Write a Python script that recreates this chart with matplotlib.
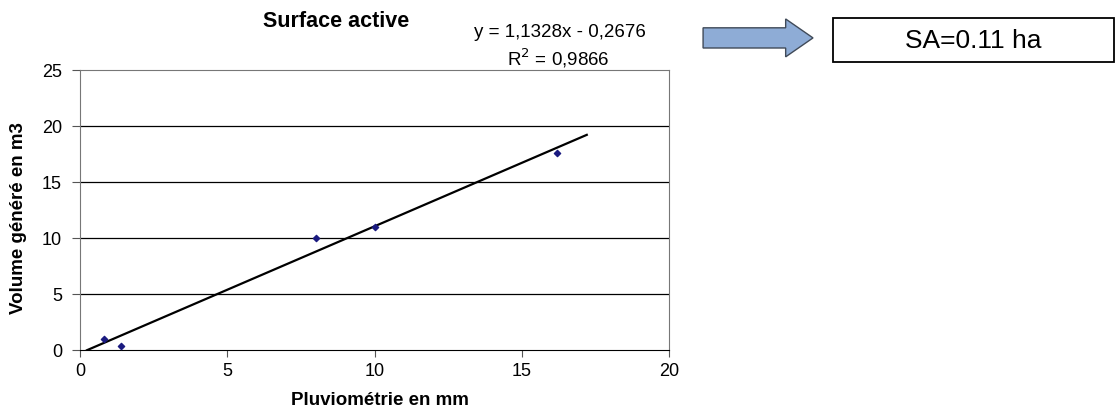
import matplotlib
matplotlib.use("Agg")
import matplotlib.pyplot as plt
from matplotlib.patches import FancyArrow, Rectangle

plt.rcParams['font.family'] = ['Liberation Sans', 'DejaVu Sans']

# measured points (rain in mm vs generated volume in m3)
pluie = [0.8, 1.4, 8.0, 10.0, 16.2]
volume = [1.0, 0.35, 10.0, 11.0, 17.6]

# linear trend shown on the chart
pente = 1.1328
origine = -0.2676
r2 = 0.9866
trend_x = [0.236, 17.2]
trend_y = [pente * x + origine for x in trend_x]

xticks = [0, 5, 10, 15, 20]
yticks = [0, 5, 10, 15, 20, 25]

fig = plt.figure(figsize=(11.16, 4.12), dpi=100)
ax = fig.add_axes([0.0717, 0.150, 0.528, 0.680])

for y in yticks[1:-1]:
    ax.axhline(y, color='black', lw=0.9, zorder=1)

ax.plot(trend_x, trend_y, color='black', lw=1.6, zorder=2)
ax.scatter(pluie, volume, marker='D', s=10, color='#1a1a80', zorder=3)

ax.set_xlim(0, 20)
ax.set_ylim(0, 25)
ax.set_xticks(xticks)
ax.set_yticks(yticks)
ax.tick_params(labelsize=13, length=5, color='#555555')
ax.tick_params(axis='x', pad=4)
ax.tick_params(axis='y', length=6, pad=7)
for side in ['left', 'top', 'right']:
    ax.spines[side].set_color('#777777')
ax.spines['bottom'].set_color('black')

ax.set_xlabel('Pluviométrie en mm', fontsize=13.5, fontweight='bold')
ax.set_ylabel('Volume généré en m3', fontsize=13.5, fontweight='bold')
ax.xaxis.set_label_coords(0.509, -0.148)
ax.yaxis.set_label_coords(-0.090, 0.47)

fig.text(0.301, 0.947, 'Surface active', fontsize=15.5, fontweight='bold', ha='center', va='center')
fig.text(0.502, 0.922, 'y = 1,1328x - 0,2676', fontsize=13.5, ha='center', va='center')
fig.text(0.500, 0.859, 'R$^2$ = %s' % str(r2).replace('.', ','), fontsize=13.5, ha='center', va='center')

# arrow and result box
arr = FancyArrow(0.630, 0.908, 0.074, 0, width=0.049, head_width=0.092, head_length=0.0245,
                 length_includes_head=False, transform=fig.transFigure,
                 facecolor='#8eacd6', edgecolor='#404a58', lw=1.0)
fig.add_artist(arr)
box = Rectangle((0.746, 0.850), 0.252, 0.106, transform=fig.transFigure,
                facecolor='white', edgecolor='black', lw=1.3)
fig.add_artist(box)
fig.text(0.872, 0.900, 'SA=0.11 ha', fontsize=19, ha='center', va='center')

fig.savefig('out.png', dpi=100)
